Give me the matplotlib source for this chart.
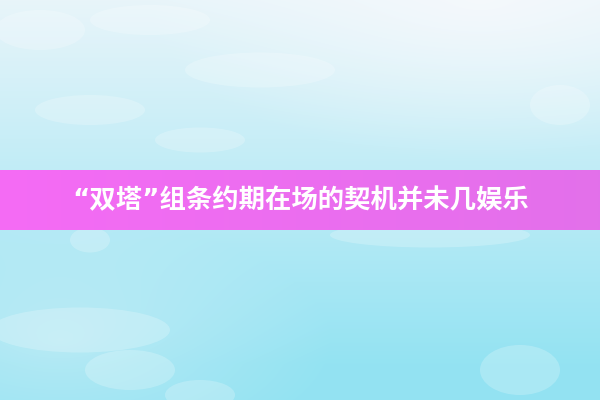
import numpy as np
import matplotlib
matplotlib.use("Agg")
import matplotlib.pyplot as plt
from matplotlib.patches import Ellipse

plt.rcParams['font.family'] = ['Noto Sans CJK SC', 'DejaVu Sans']

# banner content
title = "“双塔”组条约期在场的契机并未几娱乐"
band_top, band_bottom = 170, 230
band_left_rgb = (0.96, 0.42, 0.96)
band_right_rgb = (0.89, 0.44, 0.92)

W, H = 600, 400
fig = plt.figure(figsize=(6, 4), dpi=100)
ax = fig.add_axes([0, 0, 1, 1])
ax.set_xlim(0, W)
ax.set_ylim(H, 0)
ax.axis("off")

# sky-like background: whitish at top, cyan lower down
yy, xx = np.mgrid[0:H, 0:W]
fy = yy / H
fx = xx / W
top = np.array([0.91, 0.96, 0.98])
bottom = np.array([0.58, 0.89, 0.95])
mix = np.clip(fy * 1.1, 0, 1)[..., None]
bg = top[None, None, :] * (1 - mix) + bottom[None, None, :] * mix
# brighter top-right corner
glow = np.clip(1 - np.hypot((fx - 0.8) / 0.55, fy / 0.4), 0, 1)[..., None]
bg = bg * (1 - 0.7 * glow) + 0.7 * glow * np.array([0.98, 0.98, 0.99])
# lighter bottom-left
glow2 = np.clip(1 - np.hypot((fx - 0.1) / 0.45, (fy - 0.85) / 0.3), 0, 1)[..., None]
bg = bg * (1 - 0.45 * glow2) + 0.45 * glow2 * np.array([0.88, 0.95, 0.97])
ax.imshow(bg, extent=(0, W, H, 0), zorder=0)

# soft cloud blobs
clouds = [(40, 30, 90, 40), (150, 20, 120, 30), (260, 70, 150, 35),
          (90, 110, 110, 30), (200, 140, 90, 25), (560, 105, 60, 40),
          (130, 370, 90, 40), (80, 330, 180, 45), (200, 395, 70, 30),
          (430, 235, 200, 25), (520, 370, 80, 50), (90, 240, 40, 25)]
for cx, cy, w, h in clouds:
    ax.add_patch(Ellipse((cx, cy), w, h, color="white", alpha=0.22, lw=0, zorder=1))

# magenta banner with a horizontal gradient
grad = np.linspace(0, 1, W)[None, :, None]
band = np.array(band_left_rgb)[None, None, :] * (1 - grad) + np.array(band_right_rgb)[None, None, :] * grad
ax.imshow(band, extent=(0, W, band_bottom, band_top), zorder=2, aspect="auto")

ax.text(301, 201, title, color="white", fontsize=19, fontweight="bold",
        family=['DejaVu Sans', 'Noto Sans CJK SC'],
        ha="center", va="center", zorder=3)

ax.set_xlim(0, W)
ax.set_ylim(H, 0)
fig.savefig("out.png", dpi=100)
